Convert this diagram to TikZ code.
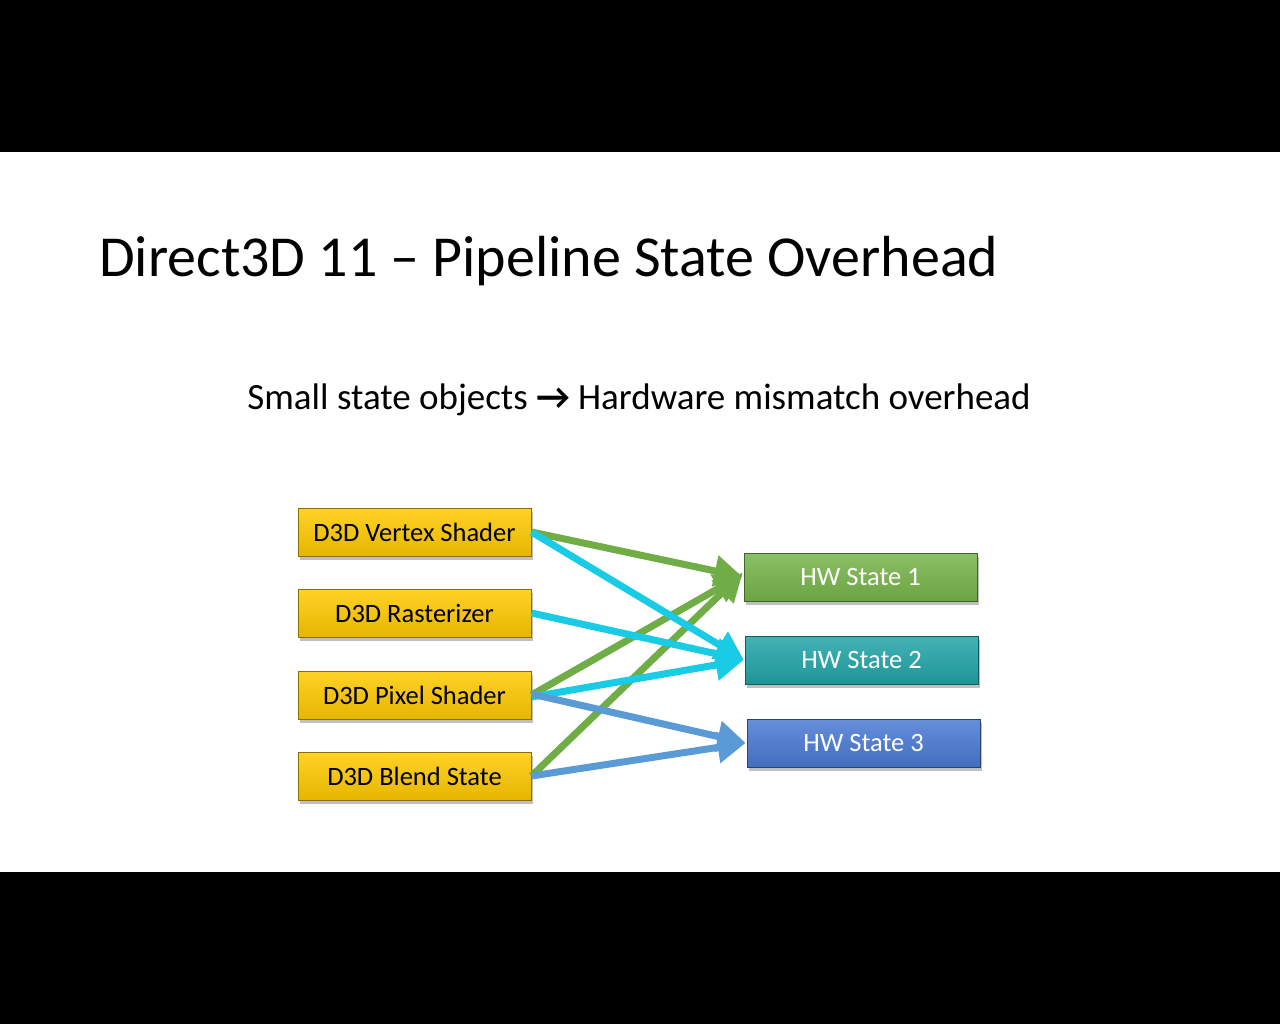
\documentclass[tikz,border=0pt]{standalone}
\usepackage{fontspec}
\setmainfont{Carlito}
\usetikzlibrary{arrows.meta,shadows}
\definecolor{yel}{HTML}{FFCA00}
\definecolor{grn}{HTML}{77B54A}
\definecolor{tea}{HTML}{22A5A8}
\definecolor{blu}{HTML}{4A7AD4}
\definecolor{cya}{HTML}{19CBE4}
\definecolor{gar}{HTML}{70AD47}
\definecolor{bar}{HTML}{5B9BD5}
\tikzset{
 box/.style={draw=#1!55!black,line width=1pt,minimum width=233pt,minimum height=48pt,inner sep=0pt,
   top color=#1!85!white,bottom color=#1!90!black,font=\fontsize{26.5}{28}\selectfont,
   drop shadow={shadow xshift=1.5pt,shadow yshift=-3.5pt,opacity=0.5}},
 hw/.style={box=#1,text=white},
 arr/.style={line width=7pt,draw=#1,-{Triangle[length=28pt,width=30pt]},shorten >=1pt}
}
\begin{document}
\begin{tikzpicture}[x=1pt,y=-1pt]
\useasboundingbox (0,0) rectangle (1280,1024);
\fill[black] (0,0) rectangle (1280,152);
\fill[black] (0,872) rectangle (1280,1024);
\node[anchor=base west,inner sep=0pt,font=\fontsize{58}{62}\selectfont] (title) at (99,277) {Direct3D 11 – Pipeline State Overhead};
\node[anchor=base,inner sep=0pt,font=\fontsize{37}{40}\selectfont] (sub) at (639,409) {Small state objects \textbf{\symbol{"2192}} Hardware mismatch overhead};
\node[box=yel] (vs) at (414.5,532) {D3D Vertex Shader};
\node[box=yel] (ra) at (414.5,613) {D3D Rasterizer};
\node[box=yel] (ps) at (414.5,695) {D3D Pixel Shader};
\node[box=yel] (bs) at (414.5,776) {D3D Blend State};
\node[hw=grn] (h1) at (860.5,577) {HW State 1};
\node[hw=tea] (h2) at (861.5,660) {HW State 2};
\node[hw=blu] (h3) at (863.5,743) {HW State 3};
\draw[arr=gar] (vs.east) -- (h1.west);
\draw[arr=gar] (ps.east) -- ([yshift=3pt]h1.west);
\draw[arr=gar] (bs.east) -- ([yshift=5pt]h1.west);
\draw[arr=cya] (vs.east) -- (h2.west);
\draw[arr=cya] (ra.east) -- (h2.west);
\draw[arr=cya] ([yshift=-2pt]ps.east) -- (h2.west);
\draw[arr=bar] ([yshift=1pt]ps.east) -- (h3.west);
\draw[arr=bar] (bs.east) -- (h3.west);
\end{tikzpicture}
\end{document}
